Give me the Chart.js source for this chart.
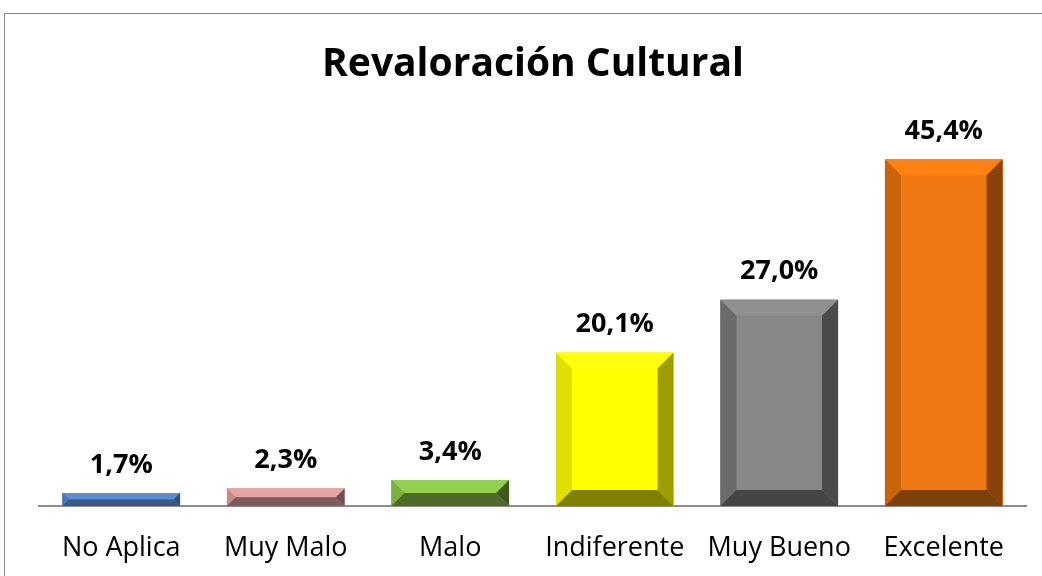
<!DOCTYPE html>
<html>
<head>
<meta charset="utf-8">
<title>Revaloración Cultural</title>
<script src="https://cdn.jsdelivr.net/npm/chart.js@4.4.1/dist/chart.umd.min.js"></script>
<style>
  html, body { margin: 0; padding: 0; background: #fff; }
  #wrap { position: relative; width: 1042px; height: 576px; }
</style>
</head>
<body>
<div id="wrap"><canvas id="culturaChart" width="1042" height="576"></canvas></div>
<script>
var categories = ["No Aplica", "Muy Malo", "Malo", "Indiferente", "Muy Bueno", "Excelente"];
var percentages = [1.7, 2.3, 3.4, 20.1, 27.0, 45.4];
var chartTitle = "Revaloración Cultural";

// bevel faces for each bar: center, top, left, right, bottom
var faceColors = [
    { center: "#4F81BD", top: "#5A8FD6", left: "#4A78B4", right: "#2F4F78", bottom: "#3A5A82" },
    { center: "#D99694", top: "#E9A3A3", left: "#C48A8A", right: "#6E5050", bottom: "#7D5C5C" },
    { center: "#7AB648", top: "#92D050", left: "#7AB040", right: "#3F5A1C", bottom: "#4F6A28" },
    { center: "#FFFF00", top: "#FFFF10", left: "#E0E000", right: "#9E9E00", bottom: "#808000" },
    { center: "#878787", top: "#8F8F8F", left: "#6B6B6B", right: "#4A4A4A", bottom: "#454545" },
    { center: "#F07812", top: "#FF8212", left: "#C8640A", right: "#8A420A", bottom: "#7C400A" }
];

var FONT = "'Open Sans', 'Liberation Sans', sans-serif";

function poly(ctx, pts, color) {
    ctx.beginPath();
    ctx.moveTo(pts[0][0], pts[0][1]);
    for (var i = 1; i < pts.length; i++) ctx.lineTo(pts[i][0], pts[i][1]);
    ctx.closePath();
    ctx.fillStyle = color;
    ctx.fill();
}

var framePlugin = {
    id: "frame",
    beforeDraw: function (chart) {
        var ctx = chart.ctx;
        ctx.save();
        ctx.strokeStyle = "#8c8c8c";
        ctx.lineWidth = 1;
        ctx.strokeRect(4.5, 13.5, 1200, 800);
        ctx.fillStyle = "#000";
        ctx.font = "bold 39px " + FONT;
        ctx.textAlign = "center";
        ctx.textBaseline = "middle";
        ctx.fillText(chartTitle, 533, 65);
        ctx.restore();
    }
};

var bevelPlugin = {
    id: "bevel",
    afterDatasetsDraw: function (chart) {
        var ctx = chart.ctx;
        var meta = chart.getDatasetMeta(0);
        ctx.save();
        meta.data.forEach(function (bar, i) {
            var p = bar.getProps(["x", "y", "base", "width"], true);
            var l = p.x - p.width / 2, r = p.x + p.width / 2;
            var t = p.y, b = p.base;
            var s = Math.min(16, (b - t) / 2, p.width / 2);
            var c = faceColors[i];
            poly(ctx, [[l, t], [r, t], [r, b], [l, b]], c.center);
            poly(ctx, [[l, t], [r, t], [r - s, t + s], [l + s, t + s]], c.top);
            poly(ctx, [[l, t], [l + s, t + s], [l + s, b - s], [l, b]], c.left);
            poly(ctx, [[r, t], [r, b], [r - s, b - s], [r - s, t + s]], c.right);
            poly(ctx, [[l, b], [l + s, b - s], [r - s, b - s], [r, b]], c.bottom);

            ctx.fillStyle = "#000";
            ctx.font = "bold 27px " + FONT;
            ctx.textAlign = "center";
            ctx.textBaseline = "middle";
            ctx.fillText(percentages[i].toFixed(1).replace(".", ",") + "%", p.x, t - 28);
        });
        ctx.restore();
    }
};

var ctx = document.getElementById("culturaChart").getContext("2d");
var culturaChart = new Chart(ctx, {
    type: "bar",
    data: {
        labels: categories,
        datasets: [
            {
                label: chartTitle,
                data: percentages,
                backgroundColor: faceColors.map(function (f) { return f.center; }),
                borderWidth: 0,
                barPercentage: 0.715,
                categoryPercentage: 1.0
            }
        ]
    },
    plugins: [framePlugin, bevelPlugin],
    options: {
        responsive: false,
        animation: false,
        devicePixelRatio: 1,
        layout: { padding: { left: 39, right: 16, top: 124, bottom: 13 } },
        plugins: {
            legend: { display: false },
            title: { display: false },
            tooltip: { enabled: false }
        },
        scales: {
            x: {
                afterFit: function (scale) { scale.height = 57; },
                grid: { display: false, drawTicks: false },
                border: { display: true, color: "#8c8c8c", width: 2 },
                ticks: { color: "#000", padding: 26, font: { family: FONT, size: 27 } }
            },
            y: {
                display: false,
                min: 0,
                max: 50
            }
        }
    }
});
</script>
</body>
</html>
